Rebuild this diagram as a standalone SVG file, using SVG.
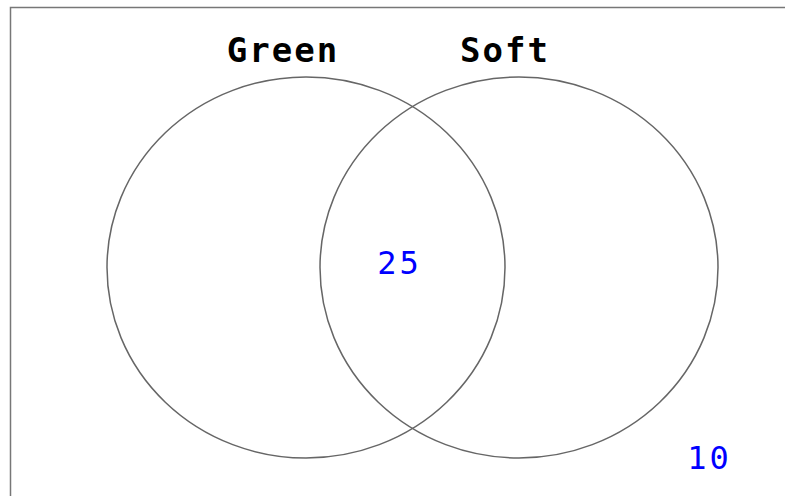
<svg xmlns="http://www.w3.org/2000/svg" width="785" height="496" viewBox="0 0 785 496">
<style>
.set{fill:none;stroke:#666;stroke-width:1.5}
.lbl{font-family:"DejaVu Sans Mono",monospace;font-weight:bold;font-size:34px;letter-spacing:2px;fill:#000;text-anchor:middle}
.num{font-family:"DejaVu Sans Mono",monospace;font-size:32px;letter-spacing:3px;fill:#0000ff;text-anchor:middle}
</style>
<rect x="0" y="0" width="785" height="496" fill="#fff"/>
<rect x="10.5" y="7.5" width="790" height="500" fill="none" stroke="#777" stroke-width="1.5"/>
<g id="green">
<ellipse class="set" cx="306" cy="267.5" rx="199" ry="190.5"/>
<text class="lbl" x="283" y="62">Green</text>
</g>
<g id="soft">
<ellipse class="set" cx="519" cy="267.5" rx="199" ry="190.5"/>
<text class="lbl" x="505" y="62">Soft</text>
</g>
<g id="connectors"></g>
<g id="counts">
<text class="num" x="399.5" y="274">25</text>
<text class="num" x="709.5" y="469">10</text>
</g>
</svg>
